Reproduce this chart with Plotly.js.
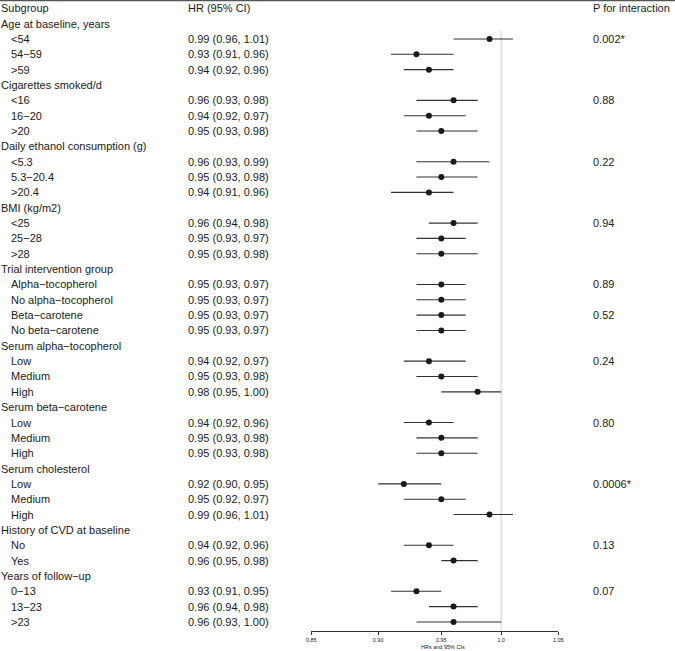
<!DOCTYPE html>
<html>
<head>
<meta charset="utf-8">
<script src="https://cdn.plot.ly/plotly-3.0.1.min.js"></script>
<style>html,body{margin:0;padding:0;background:#fff;}#chart{width:675px;height:651px;}</style>
</head>
<body>
<div id="chart"></div>
<script>
// ---- data ----
const labels = [
  "Age at baseline, years", "<54", "54\u221259", ">59",
  "Cigarettes smoked/d", "<16", "16\u221220", ">20",
  "Daily ethanol consumption (g)", "<5.3", "5.3\u221220.4", ">20.4",
  "BMI (kg/m2)", "<25", "25\u221228", ">28",
  "Trial intervention group", "Alpha\u2212tocopherol", "No alpha\u2212tocopherol", "Beta\u2212carotene", "No beta\u2212carotene",
  "Serum alpha\u2212tocopherol", "Low", "Medium", "High",
  "Serum beta\u2212carotene", "Low", "Medium", "High",
  "Serum cholesterol", "Low", "Medium", "High",
  "History of CVD at baseline", "No", "Yes",
  "Years of follow\u2212up", "0\u221213", "13\u221223", ">23"
];
const isHeader = [
  1,0,0,0, 1,0,0,0, 1,0,0,0, 1,0,0,0, 1,0,0,0,0, 1,0,0,0, 1,0,0,0, 1,0,0,0, 1,0,0, 1,0,0,0
];
const hr = [
  null,0.99,0.93,0.94, null,0.96,0.94,0.95, null,0.96,0.95,0.94, null,0.96,0.95,0.95,
  null,0.95,0.95,0.95,0.95, null,0.94,0.95,0.98, null,0.94,0.95,0.95, null,0.92,0.95,0.99,
  null,0.94,0.96, null,0.93,0.96,0.96
];
const lo = [
  null,0.96,0.91,0.92, null,0.93,0.92,0.93, null,0.93,0.93,0.91, null,0.94,0.93,0.93,
  null,0.93,0.93,0.93,0.93, null,0.92,0.93,0.95, null,0.92,0.93,0.93, null,0.90,0.92,0.96,
  null,0.92,0.95, null,0.91,0.94,0.93
];
const hi = [
  null,1.01,0.96,0.96, null,0.98,0.97,0.98, null,0.99,0.98,0.96, null,0.98,0.97,0.98,
  null,0.97,0.97,0.97,0.97, null,0.97,0.98,1.00, null,0.96,0.98,0.98, null,0.95,0.97,1.01,
  null,0.96,0.98, null,0.95,0.98,1.00
];
const pInteraction = [
  "","0.002*","","", "","0.88","","", "","0.22","","", "","0.94","","",
  "","0.89","","0.52","", "","0.24","","", "","0.80","","", "","0.0006*","","",
  "","0.13","", "","0.07","",""
];
const headerRow = ["Subgroup", "HR (95% CI)", "P for interaction"];
const tickVals = [0.85, 0.90, 0.95, 1.0, 1.05];
const tickText = ["0.85", "0.90", "0.95", "1.0", "1.05"];
const xTitle = "HRs and 95% CIs";

// ---- layout helpers ----
const W = 675, H = 651, plotBottom = 631;
const px = v => v / W;
const FONT = "Liberation Sans, Arial, Helvetica, sans-serif";
const TXT = "#1a1a1a";
const fmt = v => v.toFixed(2);

const rows = labels.map((_, i) => i + 1);
const ann = [];
function addText(text, xpx, row, size) {
  ann.push({text: text, xref: "paper", yref: "y", x: px(xpx - 2), y: row,
    xanchor: "left", yanchor: "middle", showarrow: false,
    font: {family: FONT, size: size || 11, color: TXT}});
}
addText(headerRow[0], 1, 0);
addText(headerRow[1], 188, 0);
addText(headerRow[2], 593, 0);
labels.forEach((lab, i) => {
  const r = rows[i];
  addText(lab, isHeader[i] ? 1 : 11, r);
  if (hr[i] !== null) addText(fmt(hr[i]) + " (" + fmt(lo[i]) + ", " + fmt(hi[i]) + ")", 188, r);
  if (pInteraction[i]) addText(pInteraction[i], 593, r);
});
ann.push({text: xTitle, xref: "x", yref: "paper", x: Math.log10(0.951), y: (plotBottom - 647) / plotBottom,
  xanchor: "center", yanchor: "middle", showarrow: false,
  font: {family: FONT, size: 5.5, color: TXT}});

const idx = hr.map((v, i) => v === null ? -1 : i).filter(i => i >= 0);
const trace = {
  type: "scatter", mode: "markers",
  x: idx.map(i => hr[i]), y: idx.map(i => rows[i]),
  error_x: {type: "data", symmetric: false,
    array: idx.map(i => hi[i] - hr[i]), arrayminus: idx.map(i => hr[i] - lo[i]),
    width: 0, thickness: 1.1, color: "#333"},
  marker: {size: 6, color: "#1a1a1a"},
  hoverinfo: "skip", cliponaxis: false
};

const layout = {
  width: W, height: H,
  margin: {l: 0, r: 0, t: 0, b: H - plotBottom, pad: 0},
  paper_bgcolor: "#fff", plot_bgcolor: "#fff",
  showlegend: false,
  font: {family: FONT, color: TXT},
  xaxis: {
    type: "log", range: [Math.log10(0.85), Math.log10(1.05)],
    domain: [px(311.3), px(558.3)],
    tickvals: tickVals, ticktext: tickText,
    ticks: "outside", ticklen: 3, tickwidth: 1, tickcolor: "#333",
    showline: true, linecolor: "#333", linewidth: 1,
    showgrid: false, zeroline: false,
    tickfont: {family: FONT, size: 5.5, color: TXT},
    fixedrange: true
  },
  yaxis: {range: [40.59, -0.541], visible: false, showgrid: false, zeroline: false, fixedrange: true},
  shapes: [
    {type: "line", xref: "x", yref: "y", x0: 1.0, x1: 1.0, y0: 1.46, y1: 40.59,
      line: {color: "#e4e4e4", width: 2}, layer: "below"},
    {type: "line", xref: "paper", yref: "paper", x0: 0, x1: 1, y0: 1 - 0.6 / plotBottom, y1: 1 - 0.6 / plotBottom,
      line: {color: "#555", width: 1.2}}
  ],
  annotations: ann
};

Plotly.newPlot("chart", [trace], layout, {displayModeBar: false, staticPlot: true});
</script>
</body>
</html>
